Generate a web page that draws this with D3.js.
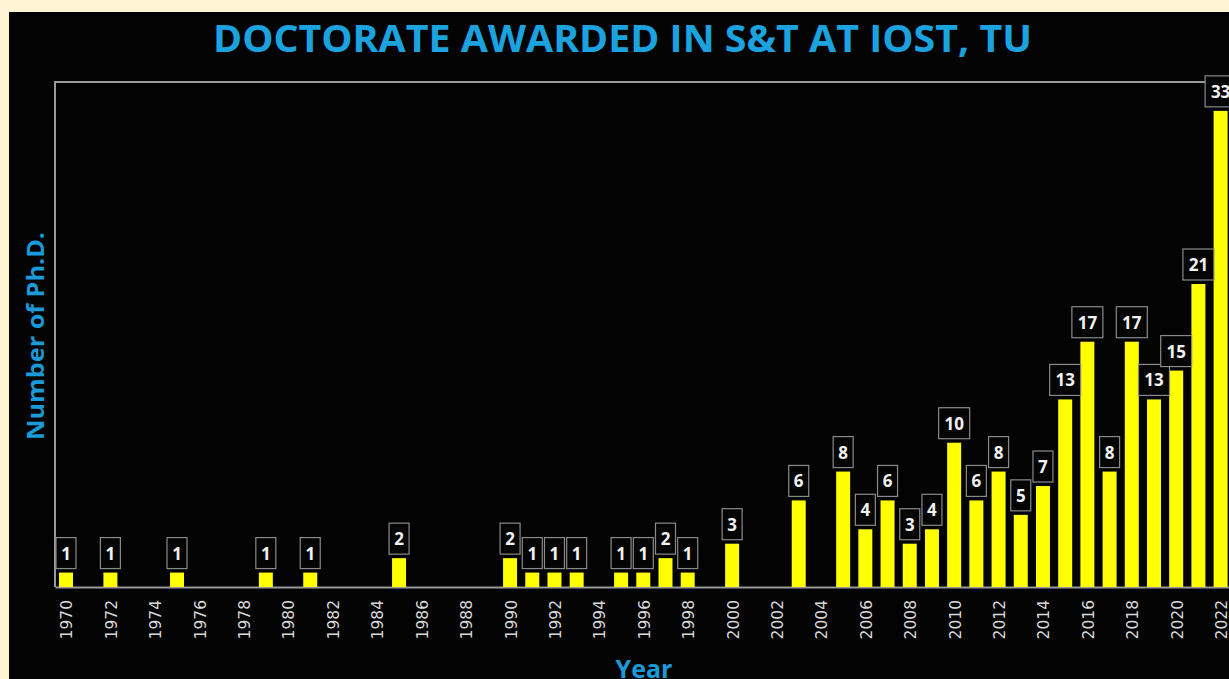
<!DOCTYPE html>
<html>
<head>
<meta charset="utf-8">
<script src="https://cdn.jsdelivr.net/npm/d3@7"></script>
<style>
  body { margin: 0; background: #fef3d3; overflow: hidden; }
  svg { display: block; }
</style>
</head>
<body>
<div id="chart"></div>
<script>
// years shown on the x axis (one bar slot per year)
var years = ["1970","1971","1972","1973","1974","1975","1976","1977","1978","1979",
  "1980","1981","1982","1983","1984","1985","1986","1987","1988","1989",
  "1990","1991","1992","1993","1994","1995","1996","1997","1998","1999",
  "2000","2001","2002","2003","2004","2005","2006","2007","2008","2009",
  "2010","2011","2012","2013","2014","2015","2016","2017","2018","2019",
  "2020","2021","2022"];

// number of Ph.D. per year (0 = no bar)
var phd = [1,0,1,0,0,1,0,0,0,1,
  0,1,0,0,0,2,0,0,0,0,
  2,1,1,1,0,1,1,2,1,0,
  3,0,0,6,0,8,4,6,3,4,
  10,6,8,5,7,13,17,8,17,13,
  15,21,33];

// labelled ticks, every second year
var tickYears = ["1970","1972","1974","1976","1978","1980","1982","1984","1986","1988",
  "1990","1992","1994","1996","1998","2000","2002","2004","2006","2008",
  "2010","2012","2014","2016","2018","2020","2022"];

var width = 1229;
var height = 679;

// plot box
var plotLeft = 55;
var plotTop = 82;
var plotBottom = 587;
var step = 22.2;

var svg = d3.select("#chart")
  .append("svg")
  .attr("width", width)
  .attr("height", height);

// black panel on the cream page
svg.append("rect")
  .attr("x", 9)
  .attr("y", 12)
  .attr("width", width - 9)
  .attr("height", height - 12)
  .attr("fill", "#030303");

// title
svg.append("text")
  .attr("x", 213)
  .attr("y", 52)
  .attr("textLength", 819)
  .attr("lengthAdjust", "spacingAndGlyphs")
  .attr("font-family", "Open Sans")
  .attr("font-weight", "bold")
  .attr("font-size", 37)
  .attr("fill", "#1ba3e0")
  .text("DOCTORATE AWARDED IN S&T AT IOST, TU");

var xScale = d3.scaleBand()
  .domain(years)
  .range([plotLeft, plotLeft + step * years.length])
  .paddingInner(0.37)
  .paddingOuter(0.18);

var yScale = d3.scaleLinear()
  .domain([0, 35])
  .range([plotBottom, plotTop]);

// frame lines
svg.append("path")
  .attr("d", "M" + plotLeft + "," + plotBottom + "V" + plotTop + "H" + width)
  .attr("fill", "none")
  .attr("stroke", "#9a9a9a")
  .attr("stroke-width", 2);

// x axis
var xAxis = d3.axisBottom(xScale)
  .tickValues(tickYears)
  .tickSize(0)
  .tickPadding(0);

var gx = svg.append("g")
  .attr("class", "xAxis")
  .attr("transform", "translate(0," + plotBottom + ")")
  .call(xAxis);

gx.select(".domain")
  .attr("stroke", "#9a9a9a")
  .attr("stroke-width", 2);

gx.selectAll("text")
  .attr("transform", "rotate(-90)")
  .attr("x", -13)
  .attr("y", 1)
  .attr("dy", "0.35em")
  .attr("text-anchor", "end")
  .attr("font-family", "DejaVu Sans")
  .attr("font-size", 15.5)
  .attr("fill", "#d9d9d9");

// bars
var rows = years.map(function(y, i) {
  return { year: y, value: phd[i] };
}).filter(function(d) {
  return d.value > 0;
});

svg.selectAll(".bar")
  .data(rows)
  .enter()
  .append("rect")
  .attr("class", "bar")
  .attr("x", function(d) { return xScale(d.year); })
  .attr("y", function(d) { return yScale(d.value); })
  .attr("width", xScale.bandwidth())
  .attr("height", function(d) { return plotBottom - yScale(d.value); })
  .attr("fill", "#ffff00");

// value labels in boxes
var labels = svg.selectAll(".lbl")
  .data(rows)
  .enter()
  .append("g")
  .attr("class", "lbl")
  .attr("transform", function(d) {
    return "translate(" + (xScale(d.year) + xScale.bandwidth() / 2) + "," + (yScale(d.value) - 4) + ")";
  });

labels.append("rect")
  .attr("x", function(d) { return d.value >= 10 ? -15.5 : -10; })
  .attr("y", -31)
  .attr("width", function(d) { return d.value >= 10 ? 31 : 20; })
  .attr("height", 31)
  .attr("fill", "#050505")
  .attr("stroke", "#8a8a8a")
  .attr("stroke-width", 1.2);

labels.append("text")
  .attr("x", 0)
  .attr("y", -9)
  .attr("text-anchor", "middle")
  .attr("font-family", "Open Sans")
  .attr("font-weight", "bold")
  .attr("font-size", 17)
  .attr("fill", "#f2f2f2")
  .text(function(d) { return d.value; });

// axis titles
svg.append("text")
  .attr("transform", "translate(44,336)rotate(-90)")
  .attr("text-anchor", "middle")
  .attr("textLength", 208)
  .attr("lengthAdjust", "spacingAndGlyphs")
  .attr("font-family", "Open Sans")
  .attr("font-weight", "bold")
  .attr("font-size", 23)
  .attr("fill", "#1a9ad8")
  .text("Number of Ph.D.");

svg.append("text")
  .attr("x", 644)
  .attr("y", 678)
  .attr("text-anchor", "middle")
  .attr("font-family", "Open Sans")
  .attr("font-weight", "bold")
  .attr("font-size", 25)
  .attr("fill", "#1a9ad8")
  .text("Year");
</script>
</body>
</html>
